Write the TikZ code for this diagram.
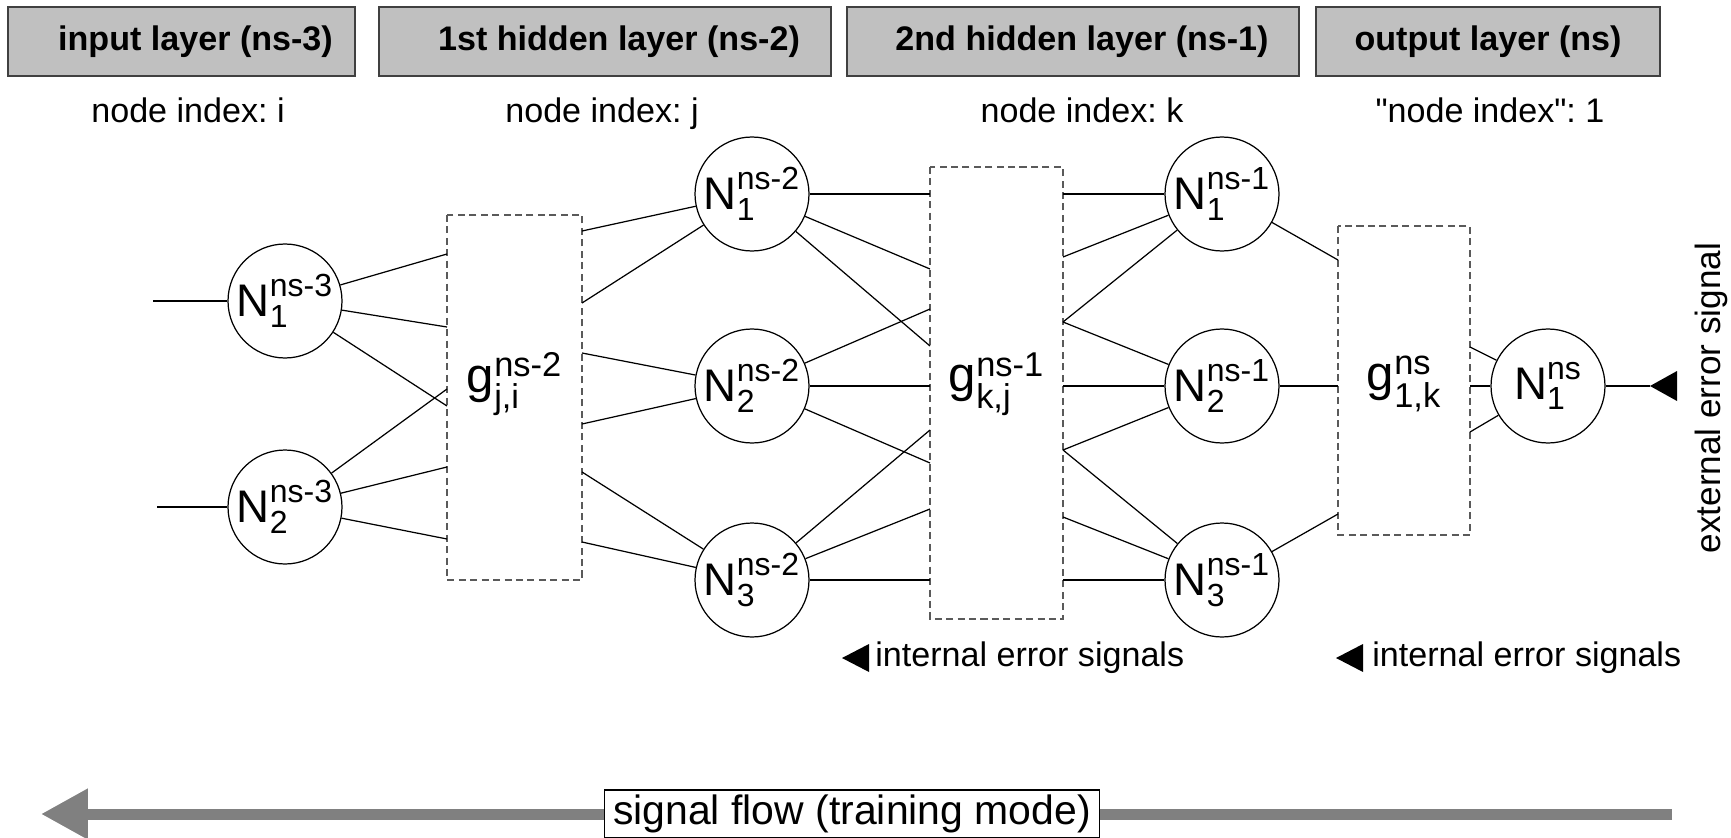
\documentclass[tikz,border=0pt]{standalone}
\usepackage{amsmath}
\usepackage{fontspec}
\setmainfont{Liberation Sans}
\newfontfamily\plainsans{Liberation Sans}[Ligatures=TeXOff]
\usepackage{tikz}
\usetikzlibrary{arrows.meta,shapes}

\definecolor{hdrfill}{HTML}{C0C0C0}
\definecolor{hdrline}{HTML}{404040}
\definecolor{boxgray}{HTML}{5A5A5A}
\definecolor{flowgray}{HTML}{808080}

\begin{document}
\frenchspacing
\begin{tikzpicture}[x=0.02cm,y=-0.02cm,
	neuron/.style={circle,draw,line width=0.7pt,minimum size=2.28cm,inner sep=0pt,font=\fontsize{26}{30}\selectfont},
	wbox/.style={draw=boxgray,dash pattern=on 4pt off 2.5pt,line width=0.7pt},
	wlabel/.style={inner sep=0pt,font=\fontsize{28}{33}\selectfont},
	hdr/.style={draw=hdrline,fill=hdrfill,line width=0.8pt,minimum height=1.38cm,inner sep=0pt,font=\fontsize{19.4}{23}\selectfont\bfseries},
	txt/.style={font=\fontsize{19.4}{23}\selectfont}]
	
	\useasboundingbox (0,0) rectangle (1731,838);
	
	\node[hdr,minimum width=6.94cm] (lay1) at (181.5,41.5) {\hspace*{0.56cm}input layer (ns-3)};
	\node[hdr,minimum width=9.04cm] (lay2) at (605,41.5) {\hspace*{0.56cm}1st hidden layer (ns-2)};
	\node[hdr,minimum width=9.04cm] (lay3) at (1073,41.5) {\hspace*{0.36cm}2nd hidden layer (ns-1)};
	\node[hdr,minimum width=6.88cm] (lay4) at (1488,41.5) {output layer (ns)};
	
	\node[txt,anchor=base] (idx1) at (188,123) {node index: i};
	\node[txt,anchor=base] (idx2) at (602,123) {node index: j};
	\node[txt,anchor=base] (idx3) at (1082,123) {node index: k};
	\node[txt,anchor=base] (idx4) at (1490,123) {{\plainsans "node index"}: 1};
	
	\node[neuron] (i1) at (285,301) {$\text{N}^{\text{ns-3}}_{\text{1}}$};
	\node[neuron] (i2) at (285,507) {$\text{N}^{\text{ns-3}}_{\text{2}}$};
	\node[neuron] (j1) at (752,194) {$\text{N}^{\text{ns-2}}_{\text{1}}$};
	\node[neuron] (j2) at (752,386) {$\text{N}^{\text{ns-2}}_{\text{2}}$};
	\node[neuron] (j3) at (752,580) {$\text{N}^{\text{ns-2}}_{\text{3}}$};
	\node[neuron] (k1) at (1222,194) {$\text{N}^{\text{ns-1}}_{\text{1}}$};
	\node[neuron] (k2) at (1222,386) {$\text{N}^{\text{ns-1}}_{\text{2}}$};
	\node[neuron] (k3) at (1222,580) {$\text{N}^{\text{ns-1}}_{\text{3}}$};
	\node[neuron] (o1) at (1548,386) {$\text{N}^{\text{ns}}_{\text{1}}$};
	
	\draw[wbox] (447,215) rectangle (582,580);
	\draw[wbox] (930,167) rectangle (1063,619);
	\draw[wbox] (1338,226) rectangle (1470,535);
	\node[wlabel] (gji) at (514.5,384) {$\text{g}^{\text{ns-2}}_{\text{j,i}}$};
	\node[wlabel] (gkj) at (996.5,384) {$\text{g}^{\text{ns-1}}_{\text{k,j}}$};
	\node[wlabel] (gk) at (1404,384) {$\text{g}^{\text{ns}}_{\text{1,k}}$};
	
	\coordinate (s1) at (153,301);
	\coordinate (s2) at (157,507);
	
	\coordinate (a1) at (447,254);
	\coordinate (a2) at (447,327);
	\coordinate (a3) at (447,389);
	\coordinate (a4) at (447,406);
	\coordinate (a5) at (447,467);
	\coordinate (a6) at (447,539);
	
	\coordinate (b1) at (582,231);
	\coordinate (b2) at (582,303);
	\coordinate (b3) at (582,353);
	\coordinate (b4) at (582,424);
	\coordinate (b5) at (582,472);
	\coordinate (b6) at (582,542);
	
	\coordinate (c1) at (930,194);
	\coordinate (c2) at (930,269);
	\coordinate (c3) at (930,309);
	\coordinate (c4) at (930,346);
	\coordinate (c5) at (930,386);
	\coordinate (c6) at (930,430);
	\coordinate (c7) at (930,463);
	\coordinate (c8) at (930,509);
	\coordinate (c9) at (930,580);
	
	\coordinate (d1) at (1063,194);
	\coordinate (d2) at (1063,257);
	\coordinate (d3) at (1063,322);
	\coordinate (d4) at (1063,386);
	\coordinate (d5) at (1063,450);
	\coordinate (d6) at (1063,517);
	\coordinate (d7) at (1063,580);
	
	\coordinate (e1) at (1338,260);
	\coordinate (e2) at (1338,386);
	\coordinate (e3) at (1338,514);
	
	\coordinate (f1) at (1470,347);
	\coordinate (f2) at (1470,386);
	\coordinate (f3) at (1470,432);
	
	\coordinate (t0) at (1650,386);
	\coordinate (t1) at (842,658);
	\coordinate (t2) at (1336,658);
	
	\draw[line width=0.7pt] (s1) -- (i1);
	\draw[line width=0.7pt] (s2) -- (i2);
	
	\draw[line width=0.7pt] (i1) -- (a1);
	\draw[line width=0.7pt] (i1) -- (a2);
	\draw[line width=0.7pt] (i1) -- (a4);
	\draw[line width=0.7pt] (i2) -- (a3);
	\draw[line width=0.7pt] (i2) -- (a5);
	\draw[line width=0.7pt] (i2) -- (a6);
	
	\draw[line width=0.7pt] (b1) -- (j1);
	\draw[line width=0.7pt] (b2) -- (j1);
	\draw[line width=0.7pt] (b3) -- (j2);
	\draw[line width=0.7pt] (b4) -- (j2);
	\draw[line width=0.7pt] (b5) -- (j3);
	\draw[line width=0.7pt] (b6) -- (j3);
	
	\draw[line width=0.7pt] (j1) -- (c1);
	\draw[line width=0.7pt] (j1) -- (c2);
	\draw[line width=0.7pt] (j1) -- (c4);
	\draw[line width=0.7pt] (j2) -- (c3);
	\draw[line width=0.7pt] (j2) -- (c5);
	\draw[line width=0.7pt] (j2) -- (c7);
	\draw[line width=0.7pt] (j3) -- (c6);
	\draw[line width=0.7pt] (j3) -- (c8);
	\draw[line width=0.7pt] (j3) -- (c9);
	
	\draw[line width=0.7pt] (d1) -- (k1);
	\draw[line width=0.7pt] (d2) -- (k1);
	\draw[line width=0.7pt] (d3) -- (k1);
	\draw[line width=0.7pt] (d3) -- (k2);
	\draw[line width=0.7pt] (d4) -- (k2);
	\draw[line width=0.7pt] (d5) -- (k2);
	\draw[line width=0.7pt] (d5) -- (k3);
	\draw[line width=0.7pt] (d6) -- (k3);
	\draw[line width=0.7pt] (d7) -- (k3);
	
	\draw[line width=0.7pt] (k1) -- (e1);
	\draw[line width=0.7pt] (k2) -- (e2);
	\draw[line width=0.7pt] (k3) -- (e3);
	
	\draw[line width=0.7pt] (f1) -- (o1);
	\draw[line width=0.7pt] (f2) -- (o1);
	\draw[line width=0.7pt] (f3) -- (o1);
	
	\draw[line width=0.7pt] (o1) -- (t0);
	\fill (t0) -- ++(27,-15) -- ++(0,30) -- cycle;
	\node[rotate=90,font=\fontsize{20}{24}\selectfont] (ext) at (1711,398) {external error signal};
	
	\fill (t1) -- ++(27,-14) -- ++(0,28) -- cycle;
	\node[txt,anchor=west,inner sep=0pt] (ie1) at (875,658) {internal error signals};
	\fill (t2) -- ++(27,-14) -- ++(0,28) -- cycle;
	\node[txt,anchor=west,inner sep=0pt] (ie2) at (1372,658) {internal error signals};
	
	\draw[flowgray,line width=0.22cm,-{Triangle[length=0.94cm,width=0.96cm]}] (1672,814) -- (41,814);
	\node[draw,fill=white,line width=0.7pt,minimum width=9.9cm,minimum height=0.96cm,inner sep=0pt,font=\fontsize{23.3}{28}\selectfont] (flow) at (852,814) {signal flow (training mode)};
	
\end{tikzpicture}
\end{document}
